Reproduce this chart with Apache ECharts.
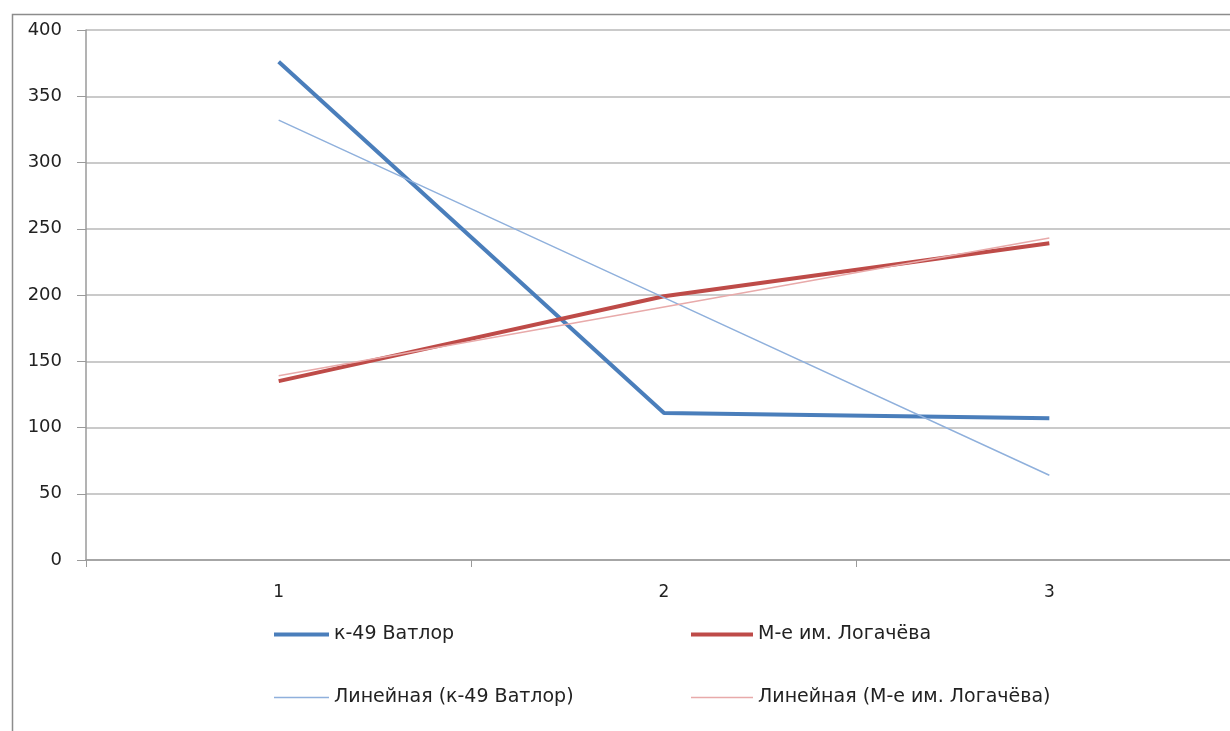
<!DOCTYPE html>
<html>
<head>
<meta charset="utf-8">
<script src="https://cdn.jsdelivr.net/npm/echarts@6/dist/echarts.min.js"></script>
<style>
  html, body { margin: 0; padding: 0; background: #fff; }
  #chart { width: 1230px; height: 731px; }
</style>
</head>
<body>
<div id="chart"></div>
<script>
// Categories and values
const categories = ['1', '2', '3'];
const vatlor = [376, 111, 107];
const logacheva = [135, 199, 239];
const vatlorTrend = [332, 198, 64];
const logachevaTrend = [139, 191, 243];

const nameVatlor = 'к-49 Ватлор';
const nameLogacheva = 'М-е им. Логачёва';
const nameVatlorTrend = 'Линейная (к-49 Ватлор)';
const nameLogachevaTrend = 'Линейная (М-е им. Логачёва)';

const yTicks = { min: 0, max: 400, interval: 50 };

const colBlue = '#4a7ebb';
const colRed = '#be4b48';
const colBlueLight = '#8fb0dc';
const colRedLight = '#e8aaaa';

const legendText = { fontFamily: 'DejaVu Sans', fontSize: 19, color: '#222' };

function legendItem(name, left, top, color, h, w) {
  return {
    data: [name], left: left, top: top, orient: 'horizontal',
    icon: 'rect', itemWidth: w, itemHeight: h, itemGap: 0,
    padding: 0, textStyle: legendText, selectedMode: false,
    itemStyle: { color: color, borderWidth: 0 }
  };
}

const chart = echarts.init(document.getElementById('chart'), null, { renderer: 'canvas' });
chart.setOption({
  animation: false,
  backgroundColor: '#fff',
  graphic: [{
    type: 'rect', left: 10, top: 12, z: -1,
    shape: { width: 1300, height: 800 },
    style: { fill: 'none', stroke: '#8c8c8c', lineWidth: 1.5 }
  }],
  grid: { left: 86, top: 30, width: 1156, height: 530, containLabel: false, outerBoundsMode: 'none' },
  legend: [
    legendItem(nameVatlor, 274, 625, colBlue, 4, 55),
    legendItem(nameLogacheva, 691, 625, colRed, 4, 62),
    legendItem(nameVatlorTrend, 274, 688, colBlueLight, 1.5, 55),
    legendItem(nameLogachevaTrend, 691, 688, colRedLight, 1.5, 62)
  ],
  xAxis: {
    type: 'category', data: categories, boundaryGap: true,
    axisLine: { lineStyle: { color: '#9a9a9a', width: 1.5 } },
    axisTick: { show: true, length: 7, inside: false, lineStyle: { color: '#9a9a9a' } },
    axisLabel: { fontFamily: 'DejaVu Sans', fontSize: 17, color: '#222', margin: 24 }
  },
  yAxis: {
    type: 'value', min: yTicks.min, max: yTicks.max, interval: yTicks.interval,
    axisLine: { show: true, lineStyle: { color: '#9a9a9a', width: 1.5 } },
    axisTick: { show: true, length: 9, lineStyle: { color: '#9a9a9a' } },
    axisLabel: { fontFamily: 'DejaVu Sans', fontSize: 18, color: '#222', margin: 24 },
    splitLine: { lineStyle: { color: '#b8b8b8', width: 1.5 } }
  },
  series: [
    { name: nameVatlor, type: 'line', data: vatlor, showSymbol: false, symbol: 'none',
      lineStyle: { color: colBlue, width: 4 }, itemStyle: { color: colBlue }, z: 3 },
    { name: nameLogacheva, type: 'line', data: logacheva, showSymbol: false, symbol: 'none',
      lineStyle: { color: colRed, width: 4 }, itemStyle: { color: colRed }, z: 3 },
    { name: nameVatlorTrend, type: 'line', data: vatlorTrend, showSymbol: false, symbol: 'none',
      lineStyle: { color: colBlueLight, width: 1.5 }, itemStyle: { color: colBlueLight }, z: 4 },
    { name: nameLogachevaTrend, type: 'line', data: logachevaTrend, showSymbol: false, symbol: 'none',
      lineStyle: { color: colRedLight, width: 1.5 }, itemStyle: { color: colRedLight }, z: 4 }
  ]
});
</script>
</body>
</html>
